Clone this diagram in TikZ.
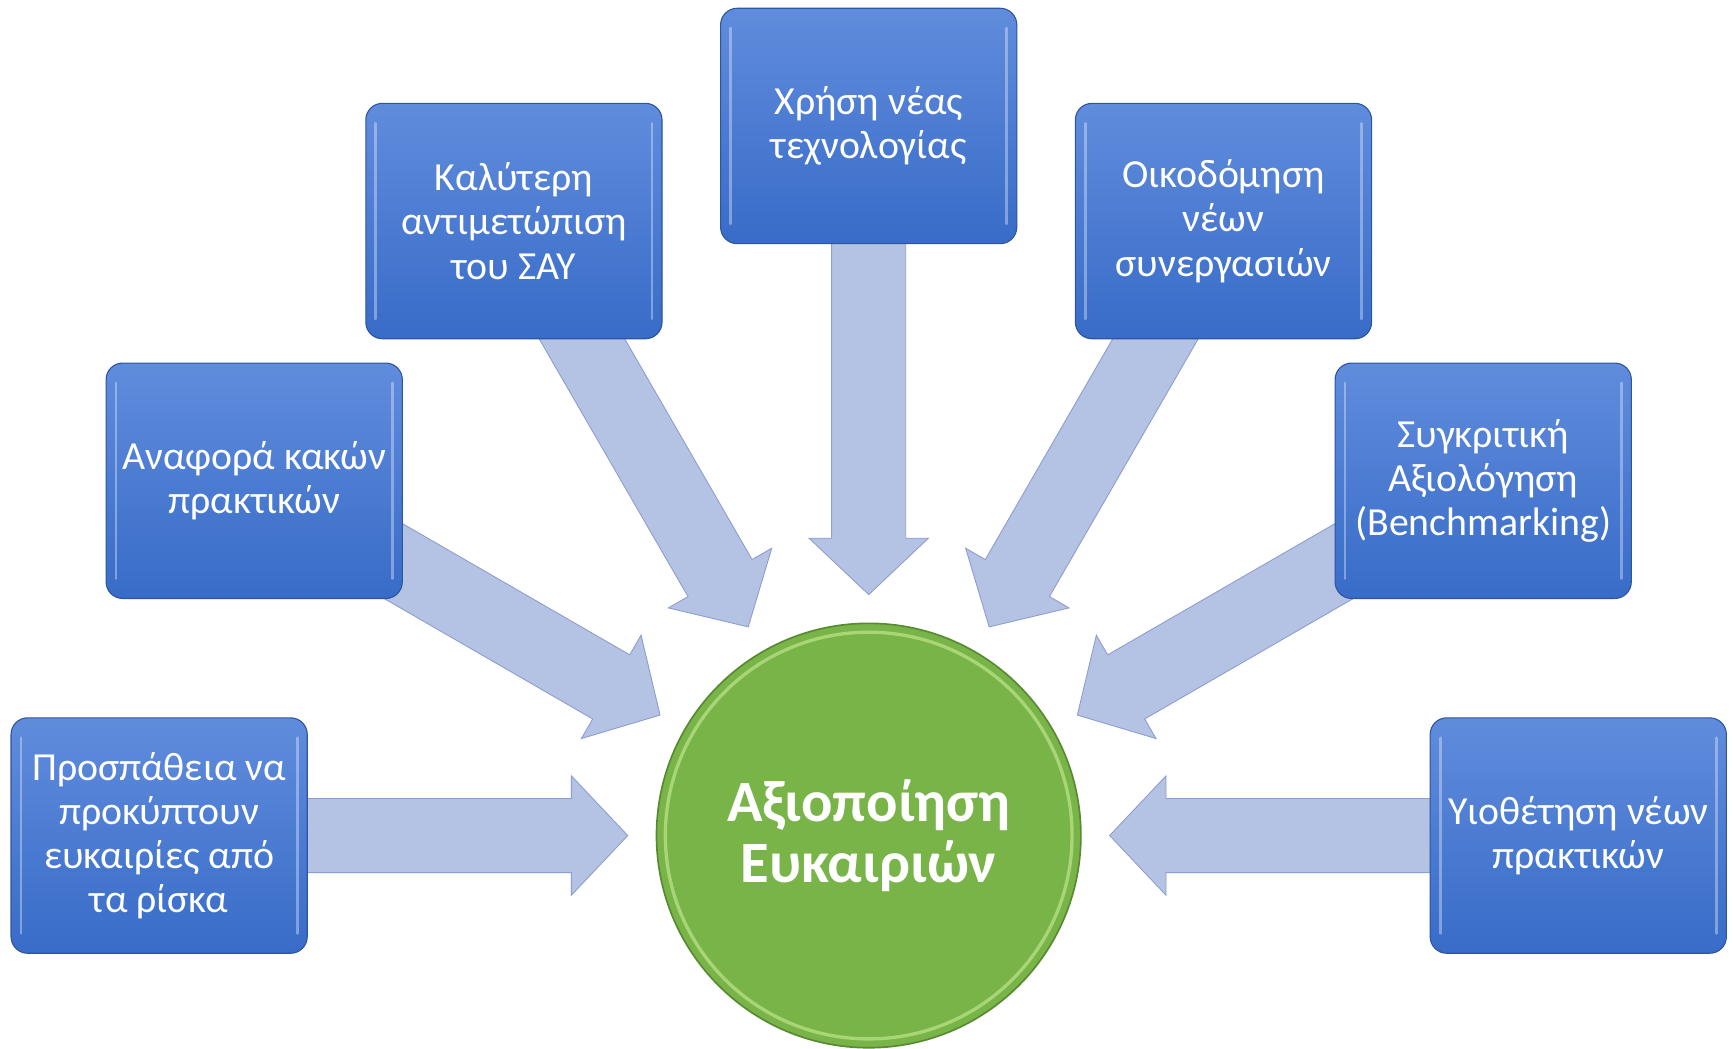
\documentclass[tikz,border=0pt]{standalone}
\usepackage{fontspec}
\setmainfont{Carlito}
\usetikzlibrary{calc}
\pgfdeclarelayer{bg}
\pgfsetlayers{bg,main}
\definecolor{boxtop}{RGB}{96,140,220}
\definecolor{boxbot}{RGB}{56,108,200}
\definecolor{boxedge}{RGB}{45,85,160}
\definecolor{arrfill}{RGB}{180,194,228}
\definecolor{arredge}{RGB}{140,158,208}
\definecolor{circfill}{RGB}{120,180,72}
\definecolor{circedge}{RGB}{88,138,50}
\definecolor{circrim}{RGB}{168,214,118}
\tikzset{
 opbox/.style={rectangle, rounded corners=15pt, minimum width=268pt, minimum height=213pt,
   top color=boxtop, bottom color=boxbot, draw=boxedge, line width=1pt, text=white,
   align=center, font=\fontsize{36}{40}\selectfont, inner sep=0pt,
   path picture={
     \draw[white, opacity=0.35, line width=2.5pt, line cap=round, sharp corners]
       ([shift={(9pt,-18pt)}]path picture bounding box.north west) --
       ([shift={(9pt,18pt)}]path picture bounding box.south west);
     \draw[white, opacity=0.35, line width=2.5pt, line cap=round, sharp corners]
       ([shift={(-9pt,-18pt)}]path picture bounding box.north east) --
       ([shift={(-9pt,18pt)}]path picture bounding box.south east);
   }},
 hub/.style={circle, minimum size=384pt, inner sep=0pt, fill=circfill, draw=circedge,
   line width=1.5pt, text=white, align=center,
   font=\fontsize{53}{55}\selectfont\bfseries,
   path picture={\draw[circrim, line width=3pt] (path picture bounding box.center) circle (184pt);}},
 blockarr/.style={fill=arrfill, draw=arredge, line width=0.8pt, line join=miter},
}
\newcommand\radarrow[2]{%
 \path ($(#2)!218pt!(#1)$) coordinate (tip)
       ($(#2)!269pt!(#1)$) coordinate (hb)
       ($(#2)!560pt!(#1)$) coordinate (tl);
 \draw[blockarr] ($(tl)!33.5pt!90:(hb)$) -- ($(hb)!33.5pt!-90:(tl)$) -- ($(hb)!54pt!-90:(tl)$)
   -- (tip) -- ($(hb)!54pt!90:(tl)$) -- ($(hb)!33.5pt!90:(tl)$) -- ($(tl)!33.5pt!-90:(hb)$) -- cycle;
}
\begin{document}
\begin{tikzpicture}
\useasboundingbox (-786pt,-193pt) rectangle (782pt,756pt);
\node[hub] (c) at (0,0) {Αξιοποίηση\\Ευκαιριών};
\node[opbox] (b1) at (180:642pt) {Προσπάθεια να\\προκύπτουν\\ευκαιρίες από\\τα ρίσκα};
\node[opbox] (b2) at (150:642pt) {Αναφορά κακών\\πρακτικών};
\node[opbox] (b3) at (120:642pt) {Καλύτερη\\αντιμετώπιση\\του ΣΑΥ};
\node[opbox] (b4) at (90:642pt) {Χρήση νέας\\τεχνολογίας};
\node[opbox] (b5) at (60:642pt) {Οικοδόμηση\\νέων\\συνεργασιών};
\node[opbox] (b6) at (30:642pt) {Συγκριτική\\Αξιολόγηση\\(Benchmarking)};
\node[opbox] (b7) at (0:642pt) {Υιοθέτηση νέων\\πρακτικών};
\begin{pgfonlayer}{bg}
\radarrow{b1}{c}
\radarrow{b2}{c}
\radarrow{b3}{c}
\radarrow{b4}{c}
\radarrow{b5}{c}
\radarrow{b6}{c}
\radarrow{b7}{c}
\end{pgfonlayer}
\end{tikzpicture}
\end{document}
